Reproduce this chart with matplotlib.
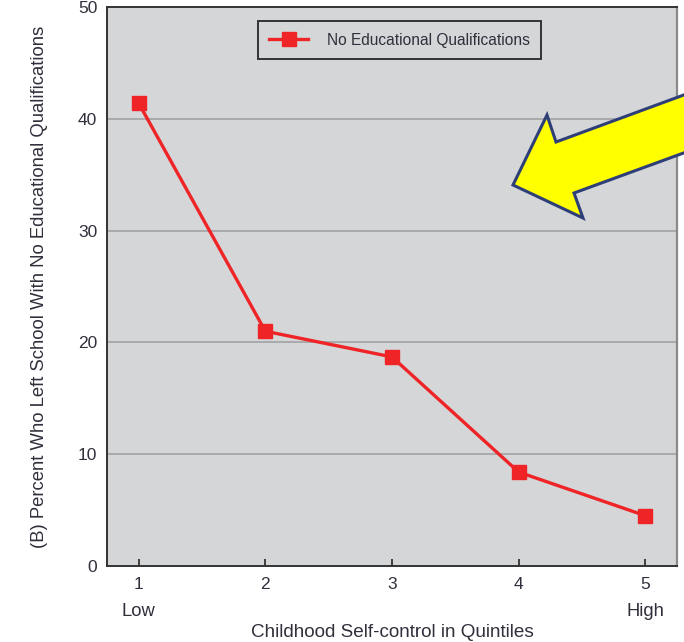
import matplotlib
matplotlib.use("Agg")
import matplotlib.pyplot as plt
from matplotlib.patches import Polygon

# data
quintiles = [1, 2, 3, 4, 5]
pct_no_quals = [41.4, 21.0, 18.7, 8.4, 4.5]
y_ticks = [0, 10, 20, 30, 40, 50]

plt.rcParams['font.family'] = ['Liberation Sans', 'DejaVu Sans']
TXT = '#30303c'
BG = '#d5d6d8'
RED = '#ee2426'

W, H = 684, 642
fig = plt.figure(figsize=(W / 100, H / 100), dpi=100)
ax = fig.add_axes([107 / W, 1 - 566 / H, 570 / W, 559 / H])
ax.set_facecolor(BG)

# gridlines only between 0 and 50
for v in y_ticks[1:-1]:
    ax.axhline(v, color='#a9a9ab', lw=1.4, zorder=1)

ax.plot(quintiles, pct_no_quals, color=RED, lw=2.4, marker='s', markersize=9.5,
        label='No Educational Qualifications', zorder=3)

ax.set_xlim(0.75, 5.25)
ax.set_ylim(0, 50)
ax.set_xticks(quintiles)
ax.set_xticklabels([str(q) for q in quintiles])
ax.set_yticks(y_ticks)
ax.tick_params(axis='y', length=0, pad=7, labelsize=12.5, labelcolor=TXT)
ax.tick_params(axis='x', direction='in', length=5, width=1.3, color='#333333',
               pad=8, labelsize=12.5, labelcolor=TXT)

for side in ['left', 'bottom', 'top']:
    ax.spines[side].set_color('#333333')
    ax.spines[side].set_linewidth(1.4)
ax.spines['right'].set_color('#8a8a8a')
ax.spines['right'].set_linewidth(1.6)

# end labels under ticks 1 and 5
tr = ax.get_xaxis_transform()
ax.text(quintiles[0], -0.082, 'Low', transform=tr, ha='center', va='center',
        fontsize=13.2, color=TXT)
ax.text(quintiles[-1], -0.082, 'High', transform=tr, ha='center', va='center',
        fontsize=13.2, color=TXT)

ax.set_xlabel('Childhood Self-control in Quintiles', fontsize=13.6, color=TXT)
ax.xaxis.set_label_coords(0.5, -0.103)
ax.set_ylabel('(B) Percent Who Left School With No Educational Qualifications',
              fontsize=13.3, color=TXT)
ax.yaxis.set_label_coords(-0.104, 0.5)

leg = ax.legend(loc='upper center', bbox_to_anchor=(0.513, 0.975), fontsize=11.2,
                fancybox=False, facecolor=BG, edgecolor='#333333', framealpha=1,
                handlelength=2.5, handletextpad=1.2, borderpad=0.75,
                borderaxespad=0)
leg.get_frame().set_linewidth(1.4)
for t in leg.get_texts():
    t.set_color(TXT)

# yellow call-out arrow (pixel outline, top-left origin)
arrow_px = [(700, 89), (556, 142), (547, 115), (513, 185), (583, 218),
            (574, 193), (700, 147)]
arrow = Polygon([(x / W, 1 - y / H) for x, y in arrow_px], closed=True,
                transform=fig.transFigure, facecolor='#ffff00',
                edgecolor='#2e3f78', lw=2.2, zorder=10, clip_on=False)
fig.patches.append(arrow)

fig.savefig('out.png', dpi=100, facecolor='white')
